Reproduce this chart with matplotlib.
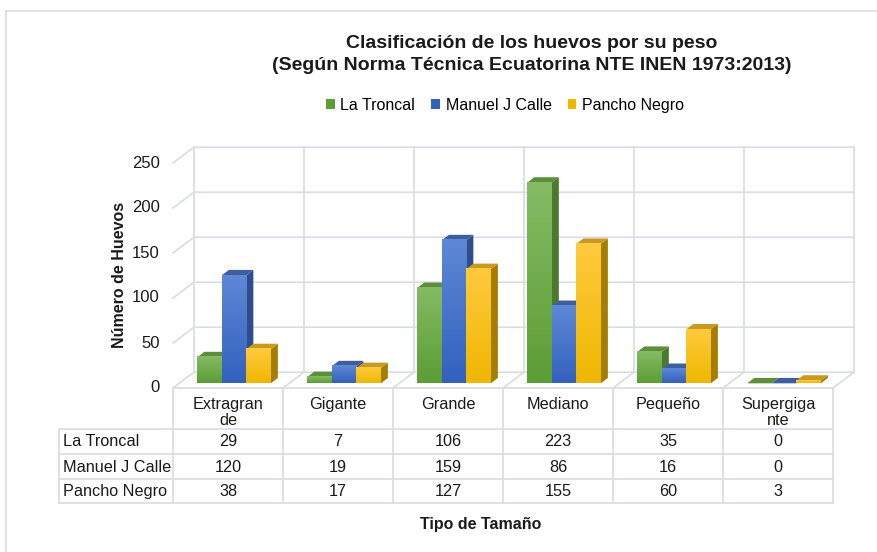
import numpy as np
import matplotlib
matplotlib.use("Agg")
import matplotlib.pyplot as plt
from matplotlib.patches import Polygon, Rectangle
from matplotlib.colors import LinearSegmentedColormap

plt.rcParams['font.family'] = ['Liberation Sans', 'DejaVu Sans']

# data
categories = ['Extragrande', 'Gigante', 'Grande', 'Mediano', 'Pequeño', 'Supergigante']
header_labels = ['Extragran\nde', 'Gigante', 'Grande', 'Mediano', 'Pequeño', 'Supergiga\nnte']
series_names = ['La Troncal', 'Manuel J Calle', 'Pancho Negro']
la_troncal = [29, 7, 106, 223, 35, 0]
manuel_j_calle = [120, 19, 159, 86, 16, 0]
pancho_negro = [38, 17, 127, 155, 60, 3]
y_ticks = [0, 50, 100, 150, 200, 250]

series = [la_troncal, manuel_j_calle, pancho_negro]

# colours (front face gradient bottom/top, side, top)
front_bot = ['#5c9d34', '#3261be', '#efb700']
front_top = ['#84bb64', '#5e88d6', '#ffca3e']
side_col = ['#4b7a2f', '#2f4d8b', '#a57e00']
top_col = ['#5c8e3e', '#3e5f9f', '#c89a22']
grid_col = '#d9dce4'
text_col = '#1a1a1a'

# pseudo 3d geometry (category units / value units)
DX, DY = 0.19, 17.5
bw = 0.223
gap = (1 - 3 * bw) / 2
bx, by = 0.055, 5.2
ddx, ddy = 0.064, 6.0

W, H = 877, 552
fig = plt.figure(figsize=(W / 100, H / 100), dpi=100)

# overlay in pixel coordinates for text and table
ov = fig.add_axes([0, 0, 1, 1])
ov.set_xlim(0, W)
ov.set_ylim(H, 0)
ov.axis('off')

X0, Y0, PXU, PXV = 173, 388, 110, 0.9
xmax, ymax = 6.3, 275
ax = fig.add_axes([X0 / W, (H - Y0) / H, xmax * PXU / W, ymax * PXV / H])
ax.set_xlim(0, xmax)
ax.set_ylim(0, ymax)
ax.axis('off')

# walls and floor
for v in y_ticks:
    ax.plot([0, DX, 6 + DX], [v, v + DY, v + DY], color=grid_col, lw=1.2,
            zorder=1, clip_on=False)
for i in range(7):
    ax.plot([i + DX, i + DX], [DY, y_ticks[-1] + DY], color=grid_col, lw=1.2,
            zorder=1, clip_on=False)
for i in range(1, 7):
    ax.plot([i, i + DX], [0, DY], color=grid_col, lw=1.2, zorder=1, clip_on=False)

for i, label in enumerate(y_ticks):
    ax.text(-0.12, label, str(label), ha='right', va='center', fontsize=12,
            color=text_col)

# bars
z = 2.0
for i in range(len(categories)):
    for s, vals in enumerate(series):
        v = vals[i]
        x0 = i + gap + s * bw + bx
        x1 = x0 + bw
        y0, y1 = by, by + v
        side = Polygon([(x1, y0), (x1 + ddx, y0 + ddy), (x1 + ddx, y1 + ddy), (x1, y1)],
                       closed=True, facecolor=side_col[s], edgecolor='none', zorder=z)
        top = Polygon([(x0, y1), (x1, y1), (x1 + ddx, y1 + ddy), (x0 + ddx, y1 + ddy)],
                      closed=True, facecolor=top_col[s], edgecolor='none', zorder=z + 0.001)
        ax.add_patch(side)
        ax.add_patch(top)
        if v > 0:
            cm = LinearSegmentedColormap.from_list('g%d' % s, [front_bot[s], front_top[s]])
            ax.imshow(np.linspace(0, 1, 64).reshape(-1, 1), extent=(x0, x1, y0, y1),
                      origin='lower', cmap=cm, aspect='auto', interpolation='bilinear',
                      zorder=z + 0.002)
        z += 0.01

ax.set_xlim(0, xmax)
ax.set_ylim(0, ymax)
ax.set_aspect('auto')

# data table
tcol = '#d9dce4'
col_x = [X0 + PXU * i for i in range(7)]
row_y = [388, 429, 454, 479, 503]
left_x = 59
ov.plot([col_x[0], col_x[-1]], [row_y[0], row_y[0]], color=tcol, lw=1.2)
for yy in row_y[1:]:
    ov.plot([left_x, col_x[-1]], [yy, yy], color=tcol, lw=1.2)
ov.plot([left_x, left_x], [row_y[1], row_y[-1]], color=tcol, lw=1.2)
for xx in col_x:
    ov.plot([xx, xx], [row_y[0], row_y[-1]], color=tcol, lw=1.2)

for i, lab in enumerate(header_labels):
    cx = (col_x[i] + col_x[i + 1]) / 2
    ov.text(cx, 397, lab, ha='center', va='top', fontsize=11.7, linespacing=1.05,
            color=text_col)
for r, vals in enumerate(series):
    cy = (row_y[r + 1] + row_y[r + 2]) / 2 + 0.5
    ov.text(left_x + 4, cy, series_names[r], ha='left', va='center', fontsize=11.7,
            color=text_col)
    for i, v in enumerate(vals):
        cx = (col_x[i] + col_x[i + 1]) / 2
        ov.text(cx, cy, str(v), ha='center', va='center', fontsize=11.7, color=text_col)

# titles and labels
ov.text(532, 43, 'Clasificación de los huevos por su peso', ha='center', va='center',
        fontsize=14, fontweight='bold', color=text_col)
ov.text(532, 65, '(Según Norma Técnica Ecuatorina NTE INEN 1973:2013)', ha='center',
        va='center', fontsize=14, fontweight='bold', color=text_col)
ov.text(120, 275, 'Número de Huevos', rotation=90, ha='center', va='center',
        fontsize=11.5, fontweight='bold', color=text_col)
ov.text(481, 524, 'Tipo de Tamaño', ha='center', va='center', fontsize=11.5,
        fontweight='bold', color=text_col)

# legend
handles = [Rectangle((0, 0), 1, 1, facecolor=c, edgecolor='none') for c in front_bot]
fig.legend(handles, series_names, loc='center', bbox_to_anchor=(505 / W, 1 - 105 / H),
           ncol=3, frameon=False, fontsize=11.5, handlelength=0.55, handleheight=0.55,
           handletextpad=0.35, columnspacing=1.0)

# chart border
ov.plot([6, 6], [H, 11], color='#dcdde3', lw=1.2)
ov.plot([6, W], [11, 11], color='#dcdde3', lw=1.2)

fig.savefig('out.png', dpi=100)
